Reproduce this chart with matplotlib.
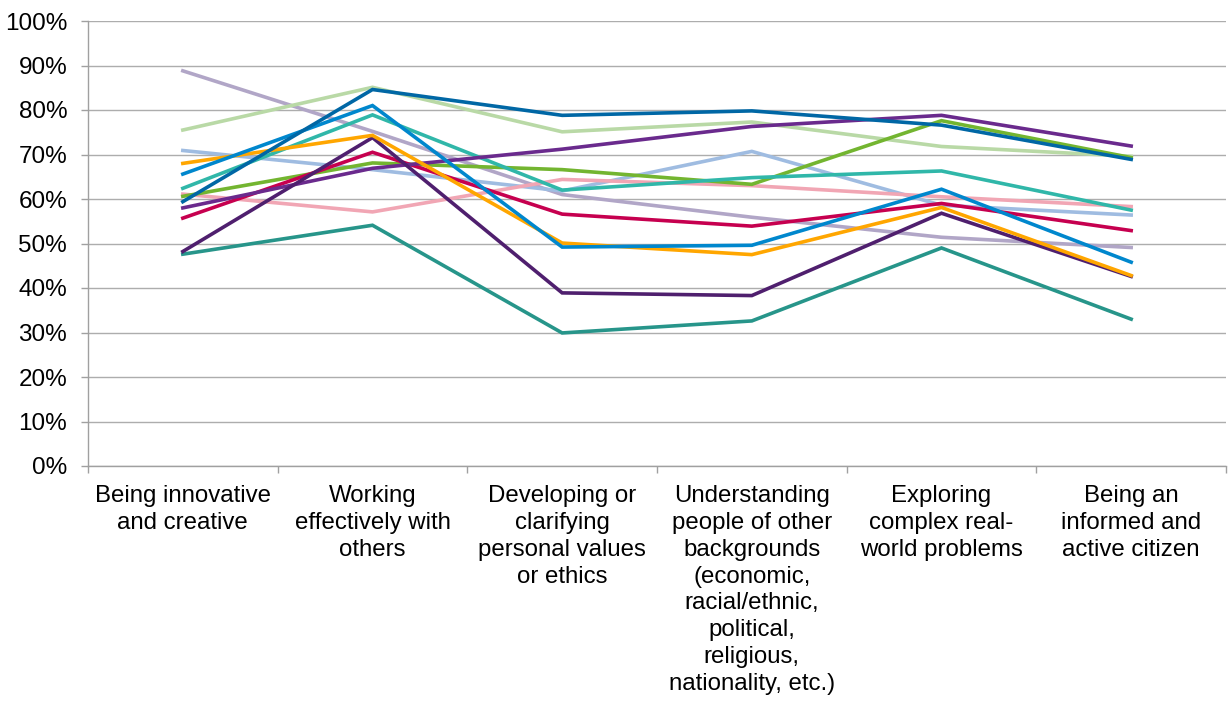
import matplotlib
matplotlib.use("Agg")
import matplotlib.pyplot as plt
from matplotlib.ticker import FixedLocator, NullFormatter

plt.rcParams['font.family'] = ['Liberation Sans', 'DejaVu Sans']

categories = [
    "Being innovative\nand creative",
    "Working\neffectively with\nothers",
    "Developing or\nclarifying\npersonal values\nor ethics",
    "Understanding\npeople of other\nbackgrounds\n(economic,\nracial/ethnic,\npolitical,\nreligious,\nnationality, etc.)",
    "Exploring\ncomplex real-\nworld problems",
    "Being an\ninformed and\nactive citizen",
]

dark_blue    = [59.4, 84.6, 78.8, 79.8, 76.6, 68.9]
light_green  = [75.5, 85.1, 75.1, 77.3, 71.8, 69.6]
purple       = [58.0, 66.9, 71.2, 76.3, 78.8, 71.9]
green        = [60.6, 68.1, 66.6, 63.3, 77.6, 69.3]
teal         = [62.4, 78.9, 62.0, 64.8, 66.3, 57.5]
light_blue   = [70.9, 66.6, 61.8, 70.7, 58.6, 56.4]
pink         = [61.1, 57.1, 64.4, 63.0, 60.5, 58.3]
lilac        = [88.8, 75.2, 61.0, 55.9, 51.4, 49.1]
crimson      = [55.7, 70.5, 56.6, 53.9, 59.0, 52.9]
blue         = [65.6, 81.0, 49.2, 49.6, 62.2, 45.8]
orange       = [68.0, 74.3, 50.1, 47.5, 58.1, 42.8]
dark_purple  = [48.2, 73.8, 38.9, 38.3, 56.8, 42.6]
dark_teal    = [47.6, 54.1, 29.9, 32.6, 49.0, 33.0]

series = [
    (lilac, "#B1A6C7"),
    (light_green, "#B9D9A6"),
    (light_blue, "#9FBCE1"),
    (pink, "#F1A6B4"),
    (green, "#73B530"),
    (teal, "#30B7A9"),
    (dark_teal, "#27958A"),
    (crimson, "#C6004F"),
    (purple, "#6A2A8D"),
    (dark_purple, "#4F1F6E"),
    (orange, "#FFA600"),
    (blue, "#0087CD"),
    (dark_blue, "#0067A5"),
]

fig = plt.figure(figsize=(12.28, 7.02), dpi=100)
ax = fig.add_axes([88/1228, 1 - 466/702, (1226-88)/1228, (466-21)/702])

x = list(range(len(categories)))
for vals, col in series:
    ax.plot(x, vals, color=col, linewidth=2.6, solid_joinstyle='miter', zorder=3)

ax.set_xlim(-0.5, len(categories) - 0.5)
ax.set_ylim(0, 100)
yt = list(range(0, 101, 10))
ax.set_yticks(yt)
ax.set_yticklabels([f"{v}%" for v in yt], fontsize=17.5)
ax.yaxis.grid(True, color="#ADADAD", linewidth=1.0, zorder=0)
ax.set_axisbelow(True)

ax.set_xticks(x)
ax.set_xticklabels(categories, fontsize=17.3, linespacing=1.29, va='top')
ax.tick_params(axis='x', which='major', length=0, pad=13.5)
ax.xaxis.set_minor_locator(FixedLocator([i - 0.5 for i in range(len(categories) + 1)]))
ax.xaxis.set_minor_formatter(NullFormatter())
ax.tick_params(axis='x', which='minor', length=5, color="#A0A0A0", width=1)
ax.tick_params(axis='y', length=5, color="#A0A0A0", width=1, pad=10)

for s in ['top', 'right']:
    ax.spines[s].set_visible(False)
for s in ['left', 'bottom']:
    ax.spines[s].set_color("#A0A0A0")
    ax.spines[s].set_linewidth(1)

fig.savefig("out.png", dpi=100)
